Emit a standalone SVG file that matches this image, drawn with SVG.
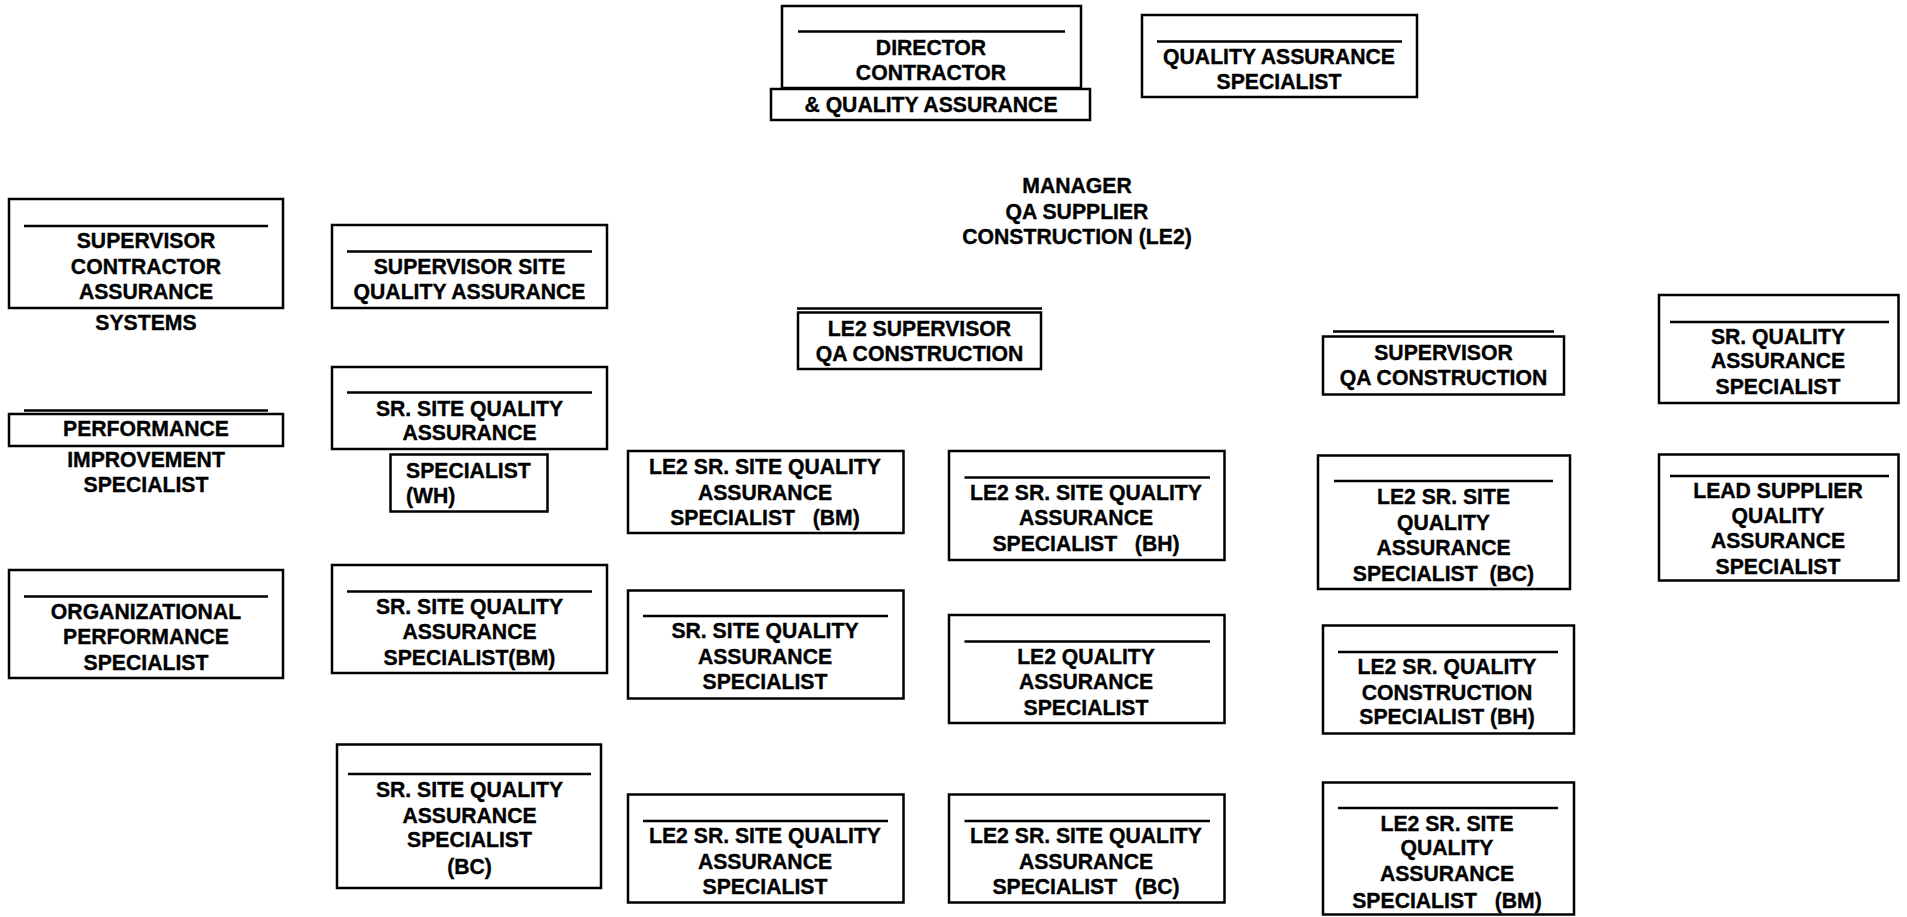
<svg xmlns="http://www.w3.org/2000/svg" width="1907" height="917" viewBox="0 0 1907 917">
<style>
.b{fill:#fff;stroke:#000;stroke-width:2.5}
.l{stroke:#000;stroke-width:2.5;fill:none}
text{font-family:"Liberation Sans",Arial,sans-serif;font-weight:bold;font-size:21.2px;fill:#000;stroke:#000;stroke-width:0.35;text-anchor:middle;white-space:pre}
.s{text-anchor:start}
</style>
<rect width="1907" height="917" fill="#fff"/>
<g id="connectors"></g>
<g id="director">
<rect class="b" x="782" y="6" width="299" height="82"/>
<line class="l" x1="798" y1="31.5" x2="1065" y2="31.5"/>
<text x="931" y="55">DIRECTOR</text>
<text x="931" y="80">CONTRACTOR</text>
<rect class="b" x="771" y="89" width="319" height="31"/>
<text x="931" y="112">&amp; QUALITY ASSURANCE</text>
</g>
<g id="qa-specialist">
<rect class="b" x="1142" y="15" width="275" height="82"/>
<line class="l" x1="1157" y1="41.5" x2="1402" y2="41.5"/>
<text x="1279" y="64">QUALITY ASSURANCE</text>
<text x="1279" y="89">SPECIALIST</text>
</g>
<g id="manager">
<text x="1077" y="193">MANAGER</text>
<text x="1077" y="219">QA SUPPLIER</text>
<text x="1077" y="244">CONSTRUCTION (LE2)</text>
</g>
<g id="sup-contractor">
<rect class="b" x="9" y="199" width="274" height="109"/>
<line class="l" x1="24" y1="226" x2="268" y2="226"/>
<text x="146" y="248">SUPERVISOR</text>
<text x="146" y="273.5">CONTRACTOR</text>
<text x="146" y="299">ASSURANCE</text>
<text x="146" y="329.5">SYSTEMS</text>
</g>
<g id="sup-site-qa">
<rect class="b" x="332" y="225" width="275" height="83"/>
<line class="l" x1="347" y1="251.5" x2="592" y2="251.5"/>
<text x="469.5" y="273.5">SUPERVISOR SITE</text>
<text x="469.5" y="299">QUALITY ASSURANCE</text>
</g>
<g id="performance">
<line class="l" x1="24" y1="410.5" x2="268" y2="410.5"/>
<rect class="b" x="9" y="414" width="274" height="32"/>
<text x="146" y="436">PERFORMANCE</text>
<text x="146" y="466.5">IMPROVEMENT</text>
<text x="146" y="492">SPECIALIST</text>
</g>
<g id="sr-site-qa-wh">
<rect class="b" x="332" y="367" width="275" height="82"/>
<line class="l" x1="347" y1="392.5" x2="592" y2="392.5"/>
<text x="469.5" y="415.5">SR. SITE QUALITY</text>
<text x="469.5" y="440">ASSURANCE</text>
<rect class="b" x="390.5" y="454.5" width="157" height="57"/>
<text class="s" x="406" y="477.5">SPECIALIST</text>
<text class="s" x="406" y="503">(WH)</text>
</g>
<g id="org-performance">
<rect class="b" x="9" y="570" width="274" height="108"/>
<line class="l" x1="24" y1="596.5" x2="268" y2="596.5"/>
<text x="146" y="618.5">ORGANIZATIONAL</text>
<text x="146" y="644">PERFORMANCE</text>
<text x="146" y="669.5">SPECIALIST</text>
</g>
<g id="sr-site-qa-bm">
<rect class="b" x="332" y="565" width="275" height="108"/>
<line class="l" x1="347" y1="591.5" x2="592" y2="591.5"/>
<text x="469.5" y="613.5">SR. SITE QUALITY</text>
<text x="469.5" y="639">ASSURANCE</text>
<text x="469.5" y="664.5">SPECIALIST(BM)</text>
</g>
<g id="sr-site-qa-bc">
<rect class="b" x="337" y="744.5" width="264" height="143.5"/>
<line class="l" x1="348" y1="774" x2="591" y2="774"/>
<text x="469.5" y="797">SR. SITE QUALITY</text>
<text x="469.5" y="822.5">ASSURANCE</text>
<text x="469.5" y="847">SPECIALIST</text>
<text x="469.5" y="873.5">(BC)</text>
</g>
<g id="le2-sup-qa-construction">
<line class="l" x1="797" y1="308.5" x2="1042" y2="308.5"/>
<rect class="b" x="798" y="312.5" width="243" height="56.5"/>
<text x="919.5" y="335.5">LE2 SUPERVISOR</text>
<text x="919.5" y="361">QA CONSTRUCTION</text>
</g>
<g id="le2-sr-site-qa-bm">
<rect class="b" x="628" y="451" width="275.5" height="82"/>
<text x="765" y="474">LE2 SR. SITE QUALITY</text>
<text x="765" y="499.5">ASSURANCE</text>
<text x="765" y="525">SPECIALIST   (BM)</text>
</g>
<g id="le2-sr-site-qa-bh">
<rect class="b" x="949" y="451" width="275.5" height="109"/>
<line class="l" x1="964.5" y1="477.5" x2="1210" y2="477.5"/>
<text x="1086" y="499.5">LE2 SR. SITE QUALITY</text>
<text x="1086" y="525">ASSURANCE</text>
<text x="1086" y="550.5">SPECIALIST   (BH)</text>
</g>
<g id="sr-site-qa-specialist">
<rect class="b" x="628" y="590.5" width="275.5" height="108"/>
<line class="l" x1="643" y1="616" x2="888" y2="616"/>
<text x="765" y="638">SR. SITE QUALITY</text>
<text x="765" y="663.5">ASSURANCE</text>
<text x="765" y="689">SPECIALIST</text>
</g>
<g id="le2-qa-specialist">
<rect class="b" x="949" y="615" width="275.5" height="108"/>
<line class="l" x1="964.5" y1="641.5" x2="1210" y2="641.5"/>
<text x="1086" y="663.5">LE2 QUALITY</text>
<text x="1086" y="689">ASSURANCE</text>
<text x="1086" y="714.5">SPECIALIST</text>
</g>
<g id="le2-sr-site-qa-specialist">
<rect class="b" x="628" y="794.5" width="275.5" height="108"/>
<line class="l" x1="643" y1="821" x2="888" y2="821"/>
<text x="765" y="843">LE2 SR. SITE QUALITY</text>
<text x="765" y="868.5">ASSURANCE</text>
<text x="765" y="894">SPECIALIST</text>
</g>
<g id="le2-sr-site-qa-bc">
<rect class="b" x="949" y="794.5" width="275.5" height="108"/>
<line class="l" x1="964.5" y1="821" x2="1210" y2="821"/>
<text x="1086" y="843">LE2 SR. SITE QUALITY</text>
<text x="1086" y="868.5">ASSURANCE</text>
<text x="1086" y="894">SPECIALIST   (BC)</text>
</g>
<g id="sup-qa-construction">
<line class="l" x1="1333" y1="331.5" x2="1554" y2="331.5"/>
<rect class="b" x="1323" y="336.5" width="241" height="58"/>
<text x="1443.5" y="359.5">SUPERVISOR</text>
<text x="1443.5" y="385">QA CONSTRUCTION</text>
</g>
<g id="le2-sr-site-qa-bc-right">
<rect class="b" x="1318" y="455.5" width="252" height="133.5"/>
<line class="l" x1="1334" y1="481" x2="1553" y2="481"/>
<text x="1443.5" y="504">LE2 SR. SITE</text>
<text x="1443.5" y="530">QUALITY</text>
<text x="1443.5" y="555">ASSURANCE</text>
<text x="1443.5" y="581">SPECIALIST  (BC)</text>
</g>
<g id="le2-sr-quality-construction-bh">
<rect class="b" x="1323" y="625.5" width="251" height="108"/>
<line class="l" x1="1338" y1="652" x2="1558" y2="652"/>
<text x="1447" y="674">LE2 SR. QUALITY</text>
<text x="1447" y="700">CONSTRUCTION</text>
<text x="1447" y="724">SPECIALIST (BH)</text>
</g>
<g id="le2-sr-site-qa-bm-right">
<rect class="b" x="1323" y="782.5" width="251" height="132"/>
<line class="l" x1="1338" y1="808" x2="1558" y2="808"/>
<text x="1447" y="831">LE2 SR. SITE</text>
<text x="1447" y="855">QUALITY</text>
<text x="1447" y="881">ASSURANCE</text>
<text x="1447" y="907.5">SPECIALIST   (BM)</text>
</g>
<g id="sr-qa-specialist">
<rect class="b" x="1659" y="295" width="239.5" height="108"/>
<line class="l" x1="1670" y1="322" x2="1889" y2="322"/>
<text x="1778" y="344">SR. QUALITY</text>
<text x="1778" y="368">ASSURANCE</text>
<text x="1778" y="393.5">SPECIALIST</text>
</g>
<g id="lead-supplier-qa-specialist">
<rect class="b" x="1659" y="454.5" width="239.5" height="126"/>
<line class="l" x1="1670" y1="476" x2="1889" y2="476"/>
<text x="1778" y="498">LEAD SUPPLIER</text>
<text x="1778" y="522.5">QUALITY</text>
<text x="1778" y="548">ASSURANCE</text>
<text x="1778" y="573.5">SPECIALIST</text>
</g>
</svg>
